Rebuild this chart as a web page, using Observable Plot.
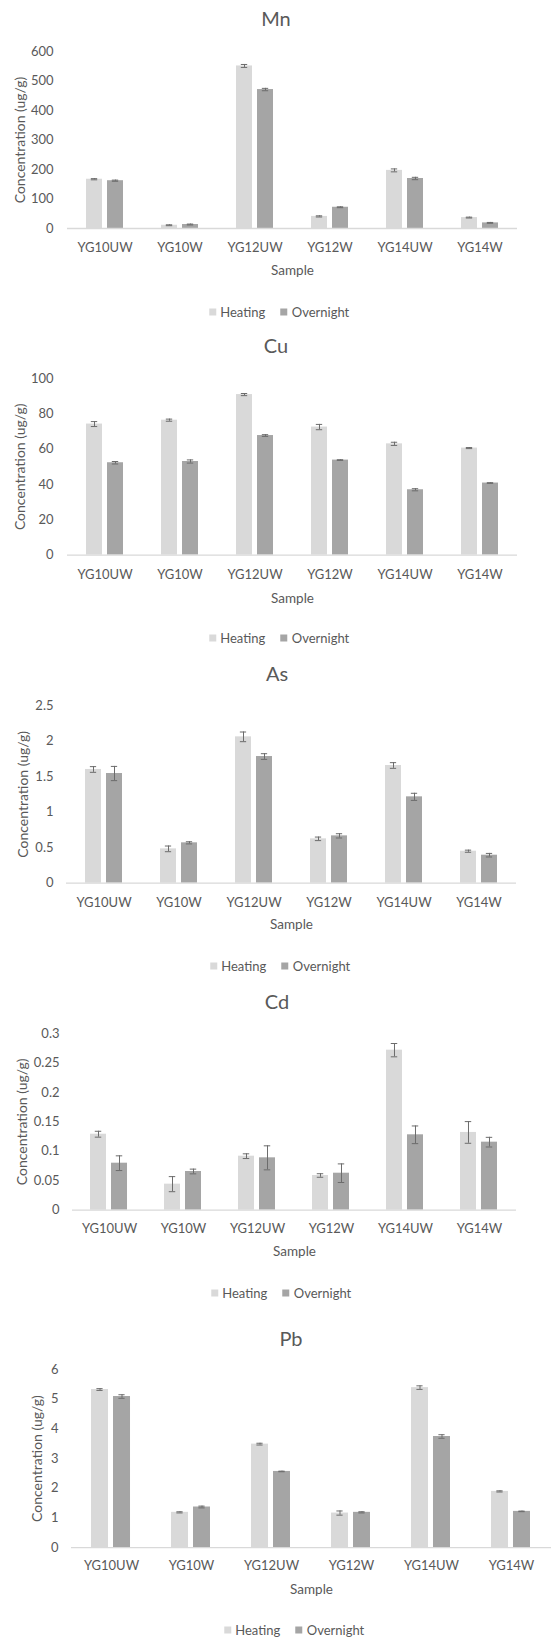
<!DOCTYPE html>
<html><head><meta charset="utf-8">
<script src="https://cdn.jsdelivr.net/npm/d3@7"></script>
<script src="https://cdn.jsdelivr.net/npm/@observablehq/plot@0.6"></script>
<style>
html,body{margin:0;padding:0;background:#fff}
body{width:552px;height:1637px;overflow:hidden;position:relative;font-family:Lato,"Open Sans",sans-serif;color:#595959}
.title{position:absolute;font-size:20px;transform:translate(-50%,-50%);white-space:nowrap;line-height:1}
.legend{position:absolute;transform:translate(-50%,-50%);display:flex;align-items:center;font-size:13px;white-space:nowrap;line-height:1}
.sw{display:inline-block;width:7px;height:7px;margin-right:4.5px}
.item{display:flex;align-items:center;margin:0 7.5px}
.chart{position:absolute;left:0;overflow:visible}
</style></head><body>
<script>
// ---------- data ----------
const samples = ["YG10UW", "YG10W", "YG12UW", "YG12W", "YG14UW", "YG14W"];
const seriesNames = ["Heating", "Overnight"];
const seriesColors = ["#d9d9d9", "#a5a5a5"];
const yAxisTitle = "Concentration (ug/g)";
const xAxisTitle = "Sample";

const mnHeating = [167, 11, 551, 41, 197, 37];
const mnHeatingErr = [2, 1.5, 5, 2, 5, 1.5];
const mnOvernight = [162, 13.5, 471, 72, 169.5, 19];
const mnOvernightErr = [2, 1.5, 4, 1.5, 4, 1.5];
const mnTicks = [0, 100, 200, 300, 400, 500, 600];

const cuHeating = [74.2, 76.4, 90.9, 72.5, 63.0, 60.6];
const cuHeatingErr = [1.4, 0.6, 0.6, 1.5, 0.9, 0.3];
const cuOvernight = [52.3, 53.0, 67.7, 53.8, 37.0, 40.8];
const cuOvernightErr = [0.7, 0.9, 0.5, 0.2, 0.6, 0.2];
const cuTicks = [0, 20, 40, 60, 80, 100];

const asHeating = [1.60, 0.483, 2.059, 0.624, 1.656, 0.45];
const asHeatingErr = [0.04, 0.04, 0.068, 0.025, 0.04, 0.015];
const asOvernight = [1.543, 0.568, 1.782, 0.666, 1.215, 0.394];
const asOvernightErr = [0.1, 0.015, 0.04, 0.03, 0.05, 0.025];
const asTicks = [0, 0.5, 1, 1.5, 2, 2.5];

const cdHeating = [0.129, 0.0442, 0.0917, 0.0589, 0.2717, 0.132];
const cdHeatingErr = [0.005, 0.0128, 0.004, 0.003, 0.0113, 0.0184];
const cdOvernight = [0.0798, 0.0657, 0.0889, 0.0628, 0.128, 0.1155];
const cdOvernightErr = [0.0125, 0.004, 0.0204, 0.0158, 0.015, 0.0082];
const cdTicks = [0, 0.05, 0.1, 0.15, 0.2, 0.25, 0.3];

const pbHeating = [5.325, 1.19, 3.487, 1.166, 5.39, 1.895];
const pbHeatingErr = [0.03, 0.02, 0.03, 0.07, 0.06, 0.02];
const pbOvernight = [5.09, 1.37, 2.567, 1.19, 3.744, 1.222];
const pbOvernightErr = [0.06, 0.03, 0.01, 0.02, 0.06, 0.01];
const pbTicks = [0, 1, 2, 3, 4, 5, 6];

// ---------- layout (page pixels) ----------
const panels = [
  {name: "Mn", h: mnHeating, he: mnHeatingErr, o: mnOvernight, oe: mnOvernightErr, ticks: mnTicks,
   yTop: 50.7, yZero: 227.7, xL: 66, xR: 517, tickRight: 52, tickY: 247, sampleY: 269, titleX: 276, titleY: 18, legendX: 279, legendY: 311.5, yLabelX: 19.5},
  {name: "Cu", h: cuHeating, he: cuHeatingErr, o: cuOvernight, oe: cuOvernightErr, ticks: cuTicks,
   yTop: 377.7, yZero: 554.3, xL: 66, xR: 517, tickRight: 52, tickY: 574, sampleY: 597, titleX: 276, titleY: 345, legendX: 279, legendY: 638, yLabelX: 19.5},
  {name: "As", h: asHeating, he: asHeatingErr, o: asOvernight, oe: asOvernightErr, ticks: asTicks,
   yTop: 705, yZero: 882.7, xL: 64, xR: 517, tickRight: 51, tickY: 901.7, sampleY: 924, titleX: 277, titleY: 673, legendX: 280, legendY: 965.7, yLabelX: 22},
  {name: "Cd", h: cdHeating, he: cdHeatingErr, o: cdOvernight, oe: cdOvernightErr, ticks: cdTicks,
   yTop: 1033.3, yZero: 1210, xL: 70, xR: 518, tickRight: 57, tickY: 1228.3, sampleY: 1251, titleX: 277, titleY: 1000.7, legendX: 281, legendY: 1293, yLabelX: 21},
  {name: "Pb", h: pbHeating, he: pbHeatingErr, o: pbOvernight, oe: pbOvernightErr, ticks: pbTicks,
   yTop: 1369.3, yZero: 1547.5, xL: 70, xR: 552, tickRight: 57, tickY: 1565.7, sampleY: 1589, titleX: 291, titleY: 1338, legendX: 294, legendY: 1630, yLabelX: 36.5}
];

const padInner = 0.22, padOuter = 0.87;
const fs = 13, yTitleSize = 14, xTitleSize = 13.5;

for (const p of panels) {
  const rows = [];
  samples.forEach((s, i) => {
    rows.push({sample: s, series: seriesNames[0], value: p.h[i], err: p.he[i]});
    rows.push({sample: s, series: seriesNames[1], value: p.o[i], err: p.oe[i]});
  });
  const top = p.yTop - 12;
  const bottom = p.sampleY + 10;
  const height = bottom - top;
  const marginTop = p.yTop - top;
  const marginBottom = bottom - p.yZero;
  const width = Math.max(552, p.xR);
  const marginRight = width - p.xR;
  const fw = (p.xR - p.xL) / samples.length;
  const step = fw / (2 - padInner + 2 * padOuter);
  const bw = step * (1 - padInner);
  const capInset = Math.max(0, (bw - 7) / 2);
  const yLabelAnchor = p.yLabelX - 0.45 * yTitleSize;
  const half = fs * 0.36;

  const chart = Plot.plot({
    width, height,
    marginTop, marginBottom, marginLeft: p.xL, marginRight,
    style: {fontFamily: "Lato, 'Open Sans', sans-serif", fontSize: fs + "px", color: "#595959", background: "transparent"},
    fx: {domain: samples, padding: 0},
    x: {domain: seriesNames, paddingInner: padInner, paddingOuter: padOuter, axis: null},
    y: {domain: [0, p.ticks[p.ticks.length - 1]], axis: null},
    color: {domain: seriesNames, range: seriesColors},
    marks: [
      Plot.barY(rows, {fx: "sample", x: "series", y: "value", fill: "series"}),
      Plot.ruleY([0], {stroke: "#d9d9d9", strokeWidth: 1.3}),
      Plot.ruleX(rows, {fx: "sample", x: "series", y1: d => d.value - d.err, y2: d => d.value + d.err, stroke: "#6b6b6b", strokeWidth: 1}),
      Plot.tickY(rows, {fx: "sample", x: "series", y: d => d.value + d.err, stroke: "#6b6b6b", strokeWidth: 1, insetLeft: capInset, insetRight: capInset}),
      Plot.tickY(rows, {fx: "sample", x: "series", y: d => d.value - d.err, stroke: "#6b6b6b", strokeWidth: 1, insetLeft: capInset, insetRight: capInset}),
      // tick labels
      Plot.axisY(p.ticks, {tickSize: 0, tickPadding: p.xL - p.tickRight, tickFormat: d => String(d), label: null}),
      Plot.axisFx({anchor: "bottom", tickSize: 0, tickPadding: p.tickY - half - p.yZero, label: null}),
      // axis titles
      Plot.axisY([], {tickSize: 0, label: yAxisTitle, labelAnchor: "center", labelArrow: "none",
        labelOffset: p.xL - yLabelAnchor, fontSize: yTitleSize}),
      Plot.axisFx([], {anchor: "bottom", tickSize: 0, label: xAxisTitle, labelAnchor: "center", labelArrow: "none",
        labelOffset: p.sampleY + 0.36 * xTitleSize - p.yZero, fontSize: xTitleSize})
    ]
  });
  const wrap = document.createElement("div");
  wrap.className = "chart";
  wrap.style.top = top + "px";
  wrap.appendChild(chart);
  document.body.appendChild(wrap);

  const t = document.createElement("div");
  t.className = "title";
  t.style.left = p.titleX + "px";
  t.style.top = p.titleY + "px";
  t.textContent = p.name;
  document.body.appendChild(t);

  const lg = document.createElement("div");
  lg.className = "legend";
  lg.style.left = p.legendX + "px";
  lg.style.top = p.legendY + "px";
  seriesNames.forEach((n, i) => {
    const it = document.createElement("span");
    it.className = "item";
    const sw = document.createElement("span");
    sw.className = "sw";
    sw.style.background = seriesColors[i];
    it.appendChild(sw);
    it.appendChild(document.createTextNode(n));
    lg.appendChild(it);
  });
  document.body.appendChild(lg);
}
</script>
</body></html>
